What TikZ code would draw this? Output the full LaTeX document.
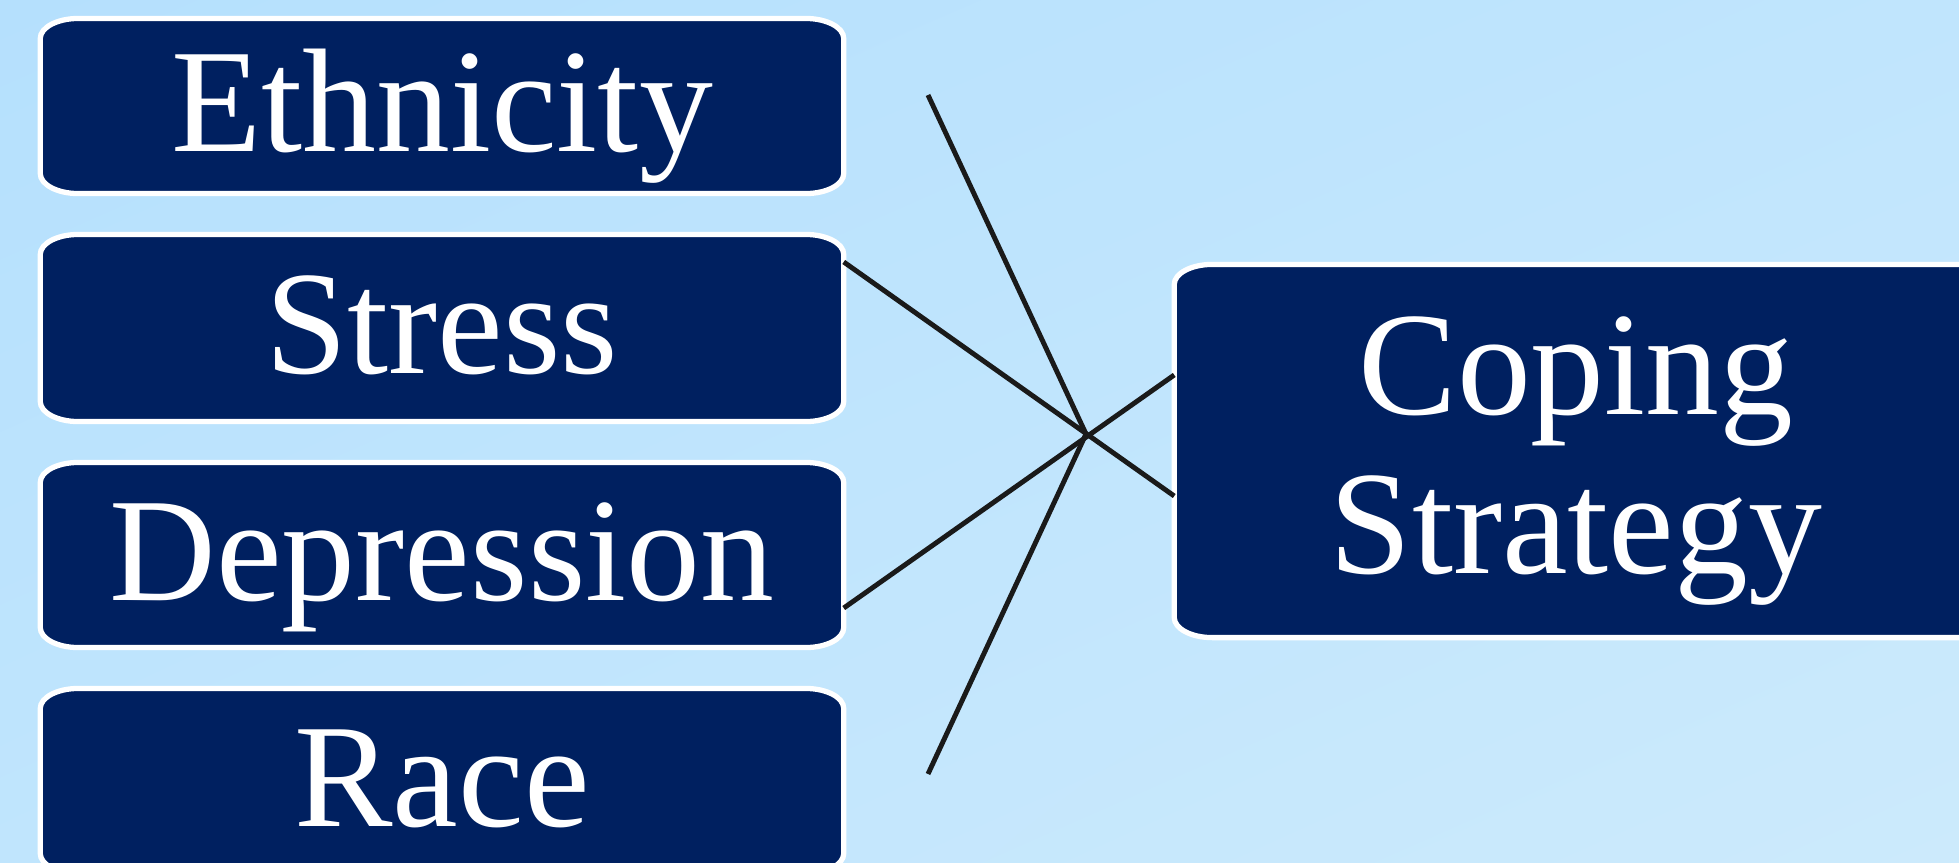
\documentclass[tikz,border=0pt]{standalone}
\usepackage{fontspec}
\setmainfont{Liberation Serif}
\usetikzlibrary{shadings}

\pgfdeclarelayer{back}
\pgfsetlayers{back,main}

\definecolor{navy}{RGB}{0,32,96}
\definecolor{skytop}{RGB}{181,224,253}
\definecolor{skymid}{RGB}{192,229,253}
\definecolor{skybot}{RGB}{204,234,252}
\definecolor{inkline}{RGB}{26,26,26}

\tikzset{
  boxtext/.style={inner sep=0pt, outer sep=0pt, minimum width=8.03cm,
    text=white, font=\fontsize{42}{45}\selectfont},
  factor/.style={boxtext, text height=25.6pt, text depth=0pt},
  outcome/.style={boxtext, text width=8.03cm, align=center,
    text height=1.18cm, text depth=1.9cm},
  capsule/.style={fill=navy, draw=white, line width=1.5pt},
  link/.style={draw=inkline, line width=1.4pt},
}

% corner radii of the boxes (wider than tall)
\def\rx{0.38cm}
\def\ry{0.2cm}
% optional argument stretches the box to the right
\newcommand\capsule[2][0cm]{%
  \path[capsule] ([xshift=\rx]#2.north west) -- ([xshift=-\rx+#1]#2.north east)
    arc[start angle=90, end angle=0, x radius=\rx, y radius=\ry]
    -- ([xshift=#1, yshift=\ry]#2.south east)
    arc[start angle=0, end angle=-90, x radius=\rx, y radius=\ry]
    -- ([xshift=\rx]#2.south west)
    arc[start angle=270, end angle=180, x radius=\rx, y radius=\ry]
    -- ([yshift=-\ry]#2.north west)
    arc[start angle=180, end angle=90, x radius=\rx, y radius=\ry]
    -- cycle;}

\begin{document}
\begin{tikzpicture}[x=0.01cm, y=0.01cm]

\useasboundingbox (0,0) rectangle (1959,-863);

% Sky background
\begin{pgfonlayer}{back}
  \shade[upper left=skytop, upper right=skymid, lower left=skymid, lower right=skybot]
    (0,0) rectangle (1959,-863);
\end{pgfonlayer}

% Factors (left column)
\node[factor, minimum height=1.75cm] (eth) at (442,-106) {Ethnicity};
\node[factor, minimum height=1.87cm] (str) at (442,-328) {Stress};
\node[factor, minimum height=1.85cm] (dep) at (442,-555) {Depression};
\node[factor, minimum height=1.85cm] (rac) at (442,-781) {Race};

% Outcome (right, runs off the page)
\node[outcome, minimum height=3.73cm] (cop) at (1576,-451) {Coping\\Strategy};

% Box shapes behind the labels
\begin{pgfonlayer}{back}
  \foreach \n in {eth,str,dep,rac} {\capsule{\n}}
  \capsule[1cm]{cop}
\end{pgfonlayer}

% Crossing lines
\coordinate (hub) at (1086,-434);
\coordinate (ethtip) at (928,-95);
\coordinate (ractip) at (928,-774);

\draw[link] ([yshift=0.66cm]str.east) -- ([yshift=-0.45cm]cop.west);
\draw[link] ([yshift=-0.53cm]dep.east) -- ([yshift=0.76cm]cop.west);
\draw[link] (ethtip) -- (hub) -- (ractip);

\end{tikzpicture}
\end{document}
